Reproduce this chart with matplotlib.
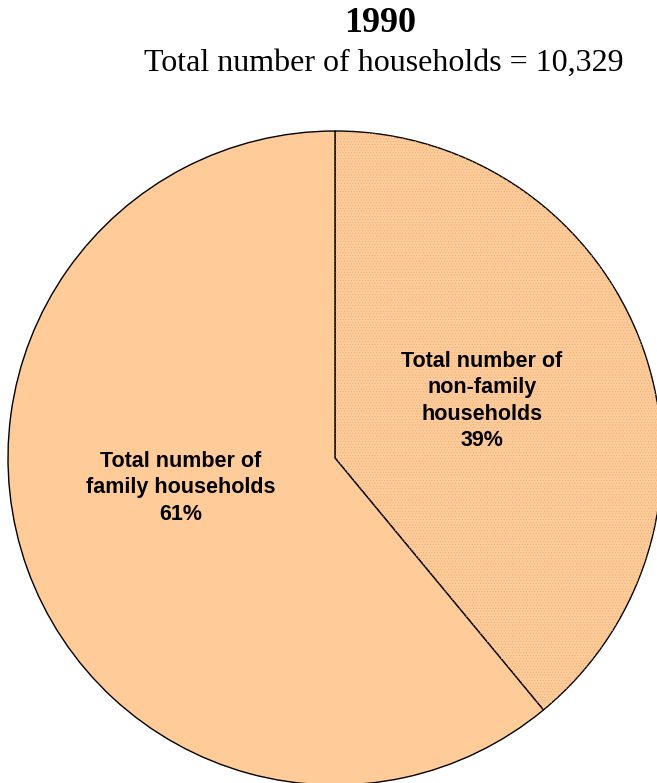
import matplotlib
matplotlib.use('Agg')
import matplotlib.pyplot as plt
from matplotlib.patches import Wedge

# --- données ---
titre = "1990"
sous_titre = "Total number of households = 10,329"
categories = ["Total number of\nnon-family\nhouseholds", "Total number of\nfamily households"]
pourcentages = [39, 61]
couleurs = ["#FFCC99", "#FFCC99"]

W, H = 657, 783
fig = plt.figure(figsize=(W / 100, H / 100), dpi=100)

# axe carré autour du disque (centre ~ (335, 458) px, rayon ~ 327 px)
cx, cy, r = 335, 458, 327
ax = fig.add_axes([(cx - r) / W, (H - cy - r) / H, 2 * r / W, 2 * r / H])

plt.rcParams['hatch.linewidth'] = 0.35

wedges, _ = ax.pie(pourcentages, colors=couleurs, startangle=90, counterclock=False,
                   radius=1, wedgeprops=dict(edgecolor='black', linewidth=1.0))

# pointillé léger de la part "non-family" (la couleur du hachurage suit edgecolor,
# donc on superpose une copie du secteur sans contour)
w0 = wedges[0]
trame = Wedge(w0.center, w0.r, w0.theta1, w0.theta2, facecolor='none',
              edgecolor='#E3AA7A', linewidth=0, hatch='......', zorder=w0.get_zorder() + 0.1)
ax.add_patch(trame)

# pie() impose ses propres limites -> on les remet après
ax.set_xlim(-1, 1)
ax.set_ylim(-1, 1)
ax.set_aspect('equal')
ax.axis('off')

# étiquettes
positions = [(482, 401), (181, 488)]
for cat, pct, (px, py) in zip(categories, pourcentages, positions):
    x = (px - cx) / r
    y = (cy - py) / r
    ax.text(x, y, f"{cat}\n{pct}%", ha='center', va='center', fontsize=15.5,
            fontweight='bold', family='Liberation Sans', linespacing=1.33, zorder=5)

fig.text(380 / W, 1 - 24 / H, titre, ha='center', va='center', fontsize=26,
         fontweight='bold', family='Liberation Serif')
fig.text(384 / W, 1 - 63 / H, sous_titre, ha='center', va='center', fontsize=23,
         family='Liberation Serif')

fig.savefig('out.png', dpi=100)
